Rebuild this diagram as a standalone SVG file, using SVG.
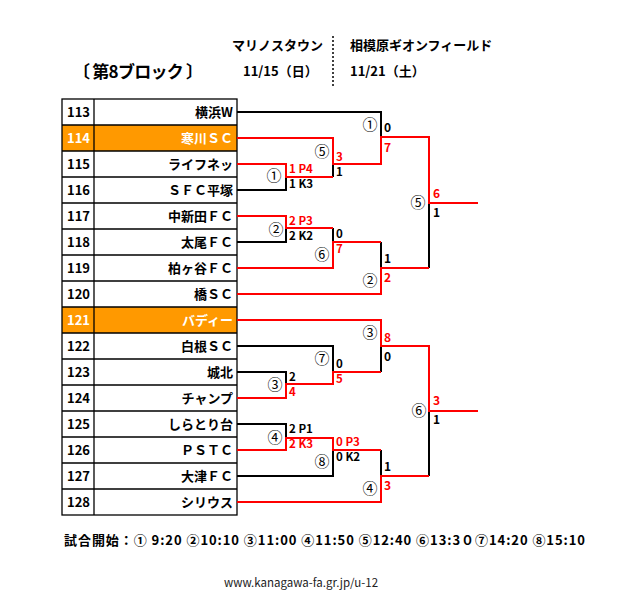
<svg xmlns="http://www.w3.org/2000/svg" width="638" height="610" viewBox="0 0 638 610">
<style>
text{font-family:"Noto Sans CJK JP","Liberation Sans",sans-serif;fill:#000}
.hd{font-size:13px;font-weight:bold}
.ttl{font-size:17px;font-weight:bold}
.num{font-size:13px;font-weight:bold}
.nm{font-size:13px;font-weight:bold;text-anchor:end}
.w{fill:#fff}
.sc{font-size:12px;font-weight:bold}
.pk{font-size:11.5px;font-weight:bold}
.r{fill:#ff0000}
.cn{font-size:15px;text-anchor:middle}
.bk{fill:none;stroke:#000;stroke-width:2;stroke-linejoin:miter}
.rd{fill:none;stroke:#ff0000;stroke-width:2;stroke-linejoin:miter}
.grid{fill:none;stroke:#000;stroke-width:1.3}
</style>
<rect width="638" height="610" fill="#fff"/>
<g id="header">
<text class="hd" x="232" y="50">マリノスタウン</text>
<text class="hd" x="243" y="76">11/15（日）</text>
<line x1="333" y1="36" x2="333" y2="86" stroke="#000" stroke-width="1.5" stroke-dasharray="2,2"/>
<text class="hd" x="350" y="50">相模原ギオンフィールド</text>
<text class="hd" x="350" y="76">11/21（土）</text>
<text class="ttl" x="73" y="78" textLength="130" lengthAdjust="spacing">〔 第8ブロック 〕</text>
</g>
<g id="table">
<rect x="62" y="125" width="175" height="26" fill="#ff9900"/>
<rect x="62" y="307" width="175" height="26" fill="#ff9900"/>
<rect class="grid" x="62" y="99" width="175" height="416"/>
<line class="grid" x1="94" y1="99" x2="94" y2="515"/>
<path class="grid" d="M62,125H237M62,151H237M62,177H237M62,203H237M62,229H237M62,255H237M62,281H237M62,307H237M62,333H237M62,359H237M62,385H237M62,411H237M62,437H237M62,463H237M62,489H237"/>
</g>
<g id="t113"><text class="num" x="67" y="117">113</text><text class="nm" x="233" y="117">横浜W</text></g>
<g id="t114"><text class="num w" x="67" y="143">114</text><text class="nm w" x="233" y="143">寒川ＳＣ</text></g>
<g id="t115"><text class="num" x="67" y="169">115</text><text class="nm" x="233" y="169">ライフネッ</text></g>
<g id="t116"><text class="num" x="67" y="195">116</text><text class="nm" x="233" y="195">ＳＦＣ平塚</text></g>
<g id="t117"><text class="num" x="67" y="221">117</text><text class="nm" x="233" y="221">中新田ＦＣ</text></g>
<g id="t118"><text class="num" x="67" y="247">118</text><text class="nm" x="233" y="247">太尾ＦＣ</text></g>
<g id="t119"><text class="num" x="67" y="273">119</text><text class="nm" x="233" y="273">柏ヶ谷ＦＣ</text></g>
<g id="t120"><text class="num" x="67" y="299">120</text><text class="nm" x="233" y="299">橋ＳＣ</text></g>
<g id="t121"><text class="num w" x="67" y="325">121</text><text class="nm w" x="233" y="325">バディー</text></g>
<g id="t122"><text class="num" x="67" y="351">122</text><text class="nm" x="233" y="351">白根ＳＣ</text></g>
<g id="t123"><text class="num" x="67" y="377">123</text><text class="nm" x="233" y="377">城北</text></g>
<g id="t124"><text class="num" x="67" y="403">124</text><text class="nm" x="233" y="403">チャンプ</text></g>
<g id="t125"><text class="num" x="67" y="429">125</text><text class="nm" x="233" y="429">しらとり台</text></g>
<g id="t126"><text class="num" x="67" y="455">126</text><text class="nm" x="233" y="455">ＰＳＴＣ</text></g>
<g id="t127"><text class="num" x="67" y="481">127</text><text class="nm" x="233" y="481">大津ＦＣ</text></g>
<g id="t128"><text class="num" x="67" y="507">128</text><text class="nm" x="233" y="507">シリウス</text></g>
<g id="connectors">
<path class="bk" d="M237,112H381V137"/>
<path class="bk" d="M237,190H286V177"/>
<path class="bk" d="M333,164V177"/>
<path class="bk" d="M237,242H286V228"/>
<path class="bk" d="M333,228V242"/>
<path class="bk" d="M381,242V268"/>
<path class="bk" d="M429,203V268"/>
<path class="bk" d="M237,346H333V372"/>
<path class="bk" d="M237,372H286V384"/>
<path class="bk" d="M381,346V372"/>
<path class="bk" d="M237,424H286V438"/>
<path class="bk" d="M237,476H333V450"/>
<path class="bk" d="M381,450V476"/>
<path class="bk" d="M429,411V476"/>
<path class="rd" d="M237,138H333V164H381V137H429V203H478"/>
<path class="rd" d="M237,164H286V177H333"/>
<path class="rd" d="M237,216H286V228H333"/>
<path class="rd" d="M237,268H333V242H381"/>
<path class="rd" d="M237,294H381V268H429"/>
<path class="rd" d="M237,320H381V346H429V411H478"/>
<path class="rd" d="M237,398H286V384H333V372H381"/>
<path class="rd" d="M237,450H286V438H333V450H381"/>
<path class="rd" d="M237,502H381V476H429"/>
</g>
<g id="m1r1"><text class="cn" x="274" y="180.5">①</text><text class="pk r" x="289" y="173">1 P4</text><text class="pk" x="289" y="188">1 K3</text></g>
<g id="m5r2"><text class="cn" x="322" y="156.5">⑤</text><text class="pk r" x="336" y="161">3</text><text class="pk" x="336" y="176">1</text></g>
<g id="m1r2"><text class="cn" x="370" y="129.5">①</text><text class="sc" x="384" y="132">0</text><text class="sc r" x="384" y="152">7</text></g>
<g id="m5sf"><text class="cn" x="418" y="207.5">⑤</text><text class="sc r" x="433" y="198">6</text><text class="sc" x="433" y="217">1</text></g>
<g id="m2r1"><text class="cn" x="276" y="234.5">②</text><text class="pk r" x="289" y="225">2 P3</text><text class="pk" x="289" y="240">2 K2</text></g>
<g id="m6r2"><text class="cn" x="322" y="259.5">⑥</text><text class="pk" x="336" y="238">0</text><text class="pk r" x="336" y="253">7</text></g>
<g id="m2r2"><text class="cn" x="370" y="285.5">②</text><text class="sc" x="384" y="263">1</text><text class="sc r" x="384" y="282">2</text></g>
<g id="m3r2"><text class="cn" x="370" y="337.5">③</text><text class="sc r" x="384" y="342">8</text><text class="sc" x="384" y="361">0</text></g>
<g id="m7r2"><text class="cn" x="322" y="363.5">⑦</text><text class="pk" x="336" y="368">0</text><text class="pk r" x="336" y="383">5</text></g>
<g id="m3r1"><text class="cn" x="275" y="389.5">③</text><text class="pk" x="289" y="381">2</text><text class="pk r" x="289" y="396">4</text></g>
<g id="m6sf"><text class="cn" x="419" y="415.5">⑥</text><text class="sc r" x="433" y="405">3</text><text class="sc" x="433" y="424">1</text></g>
<g id="m4r1"><text class="cn" x="275" y="442.5">④</text><text class="pk" x="289" y="433">2 P1</text><text class="pk r" x="289" y="448">2 K3</text></g>
<g id="m8r2"><text class="cn" x="322" y="466.5">⑧</text><text class="pk r" x="336" y="446">0 P3</text><text class="pk" x="336" y="461">0 K2</text></g>
<g id="m4r2"><text class="cn" x="370" y="493.5">④</text><text class="sc" x="384" y="471">1</text><text class="sc r" x="384" y="490">3</text></g>
<g id="footer">
<text class="hd" x="64" y="545" textLength="521" lengthAdjust="spacing">試合開始：① 9:20 ②10:10 ③11:00 ④11:50 ⑤12:40 ⑥13:3０⑦14:20 ⑧15:10</text>
<text x="301" y="587" font-size="11.5" text-anchor="middle" style="fill:#222">www.kanagawa-fa.gr.jp/u-12</text>
</g>
</svg>
